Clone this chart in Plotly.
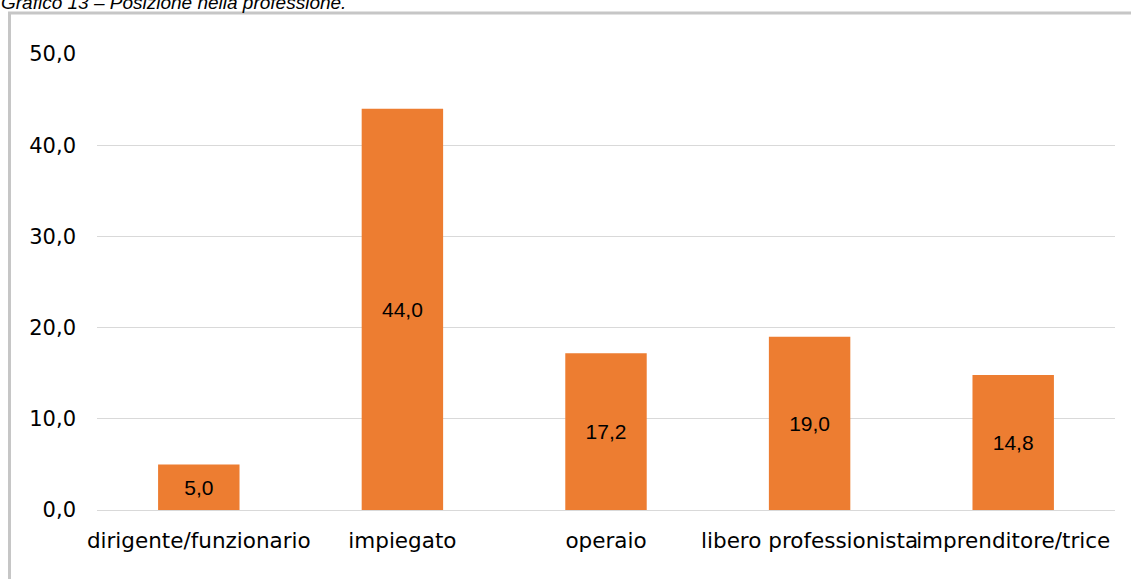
import plotly.graph_objects as go

categories = ["dirigente/funzionario", "impiegato", "operaio",
              "libero professionista", "imprenditore/trice"]
values = [5.0, 44.0, 17.2, 19.0, 14.8]
tick_vals = [0, 10, 20, 30, 40, 50]
tick_text = ["0,0", "10,0", "20,0", "30,0", "40,0", "50,0"]
title_text = "Grafico 13 – Posizione nella professione."

W, H = 1131, 579
ML, MR, MT, MB = 97, 16, 54, 69
pw = W - ML - MR
ph = H - MT - MB


def px_x(x):
    return (x - ML) / pw


def px_y(y):
    return (H - MB - y) / ph


fig = go.Figure(go.Bar(
    x=categories,
    y=values,
    marker=dict(color="#ED7D31", line=dict(width=0)),
    width=0.4,
    text=[f"{v:.1f}".replace(".", ",") for v in values],
    textposition="inside",
    insidetextanchor="middle",
    textangle=0,
    textfont=dict(family="Liberation Sans, Arial", size=21, color="#000000"),
    cliponaxis=False,
))

fig.update_layout(
    width=W, height=H,
    margin=dict(l=ML, r=MR, t=MT, b=MB, autoexpand=False),
    paper_bgcolor="#FFFFFF",
    plot_bgcolor="#FFFFFF",
    showlegend=False,
    bargap=0.6,
    xaxis=dict(
        showgrid=False, showline=False, zeroline=False, ticks="",
        tickangle=0,
        tickfont=dict(family="DejaVu Sans, Verdana", size=21.5, color="#000000"),
        ticklabelstandoff=15,
    ),
    yaxis=dict(
        range=[0, 50], tickvals=tick_vals, ticktext=tick_text,
        showgrid=True, gridcolor="#D9D9D9", gridwidth=1.3,
        zeroline=True, zerolinecolor="#D9D9D9", zerolinewidth=1.3,
        showline=False, ticks="",
        tickfont=dict(family="DejaVu Sans, Verdana", size=21, color="#000000"),
        ticklabelstandoff=20,
    ),
    shapes=[dict(
        type="rect", xref="paper", yref="paper",
        x0=px_x(9.5), x1=px_x(W + 20), y0=px_y(H + 20), y1=px_y(13),
        line=dict(color="#C6C6C6", width=3), fillcolor="rgba(0,0,0,0)",
        layer="below",
    )],
    annotations=[dict(
        text=title_text, xref="paper", yref="paper",
        x=px_x(-1), y=px_y(15), xanchor="left", yanchor="bottom",
        showarrow=False,
        font=dict(family="Liberation Sans, Arial", size=19, color="#000000"),
    )],
)
fig.update_annotations(font_style="italic")

fig.write_html("out.html")
